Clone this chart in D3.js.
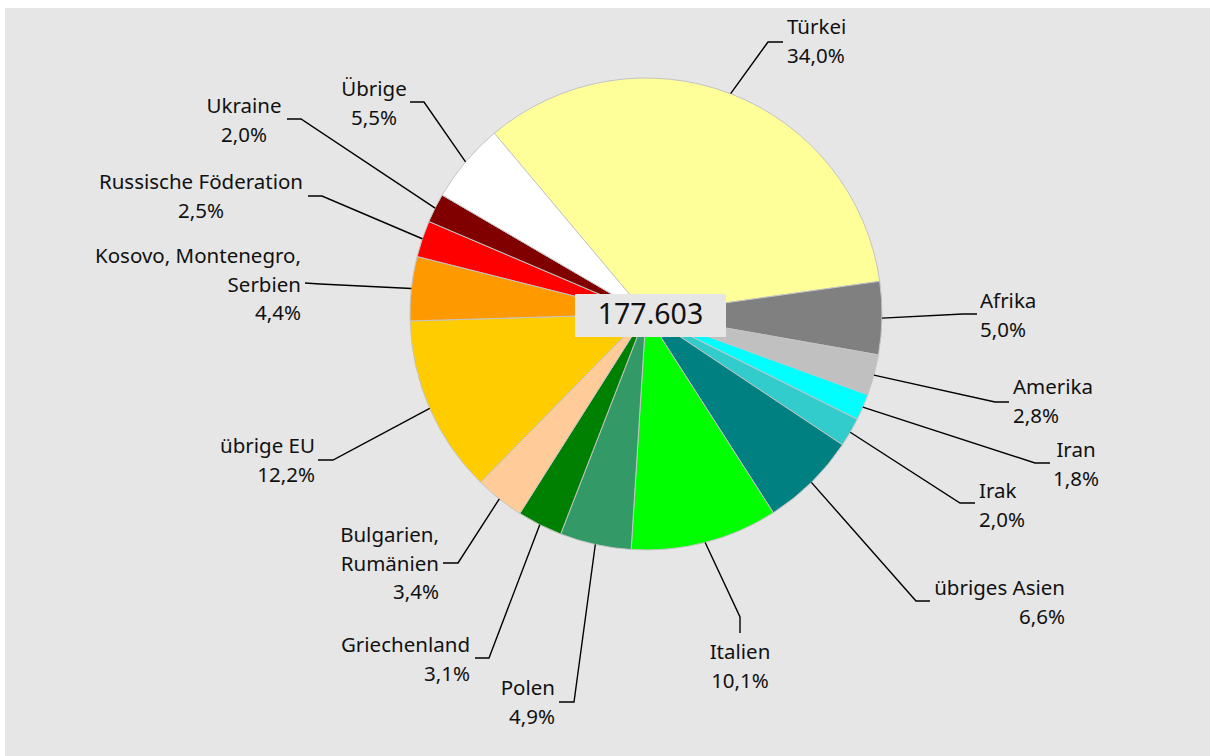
<!DOCTYPE html>
<html>
<head>
<meta charset="utf-8">
<script src="https://cdn.jsdelivr.net/npm/d3@7"></script>
<style>
  html, body { margin: 0; padding: 0; background: #ffffff; }
  svg { display: block; }
  text { font-family: "Noto Sans", "Open Sans", sans-serif; fill: #111; }
</style>
</head>
<body>
<svg id="chart" width="1211" height="756"></svg>
<script>
// ---- data ----
const categories = ["Türkei", "Afrika", "Amerika", "Iran", "Irak", "übriges Asien", "Italien", "Polen",
  "Griechenland", "Bulgarien, Rumänien", "übrige EU", "Kosovo, Montenegro, Serbien",
  "Russische Föderation", "Ukraine", "Übrige"];
const shares = [34.0, 5.0, 2.8, 1.8, 2.0, 6.6, 10.1, 4.9, 3.1, 3.4, 12.2, 4.4, 2.5, 2.0, 5.5];
const labelLines = [["Türkei"], ["Afrika"], ["Amerika"], ["Iran"], ["Irak"], ["übriges Asien"], ["Italien"], ["Polen"],
  ["Griechenland"], ["Bulgarien,", "Rumänien"], ["übrige EU"], ["Kosovo, Montenegro,", "Serbien"],
  ["Russische Föderation"], ["Ukraine"], ["Übrige"]];
const totalValue = 177603;
const colors = ["#FFFF99", "#808080", "#C0C0C0", "#00FFFF", "#33CCCC", "#008080", "#00FF00", "#339966",
  "#008000", "#FFCC99", "#FFCC00", "#FF9900", "#FF0000", "#800000", "#FFFFFF"];

// ---- label layout (anchor, text x, first baseline y, elbow point, end point) ----
const labelLayout = [
  { a: "start",  x: 787,  y: 34,  e: [768, 42],  t: [783, 42] },
  { a: "start",  x: 980,  y: 308, e: [963, 314], t: [977, 314] },
  { a: "start",  x: 1013, y: 394, e: [995, 402], t: [1009, 402] },
  { a: "middle", x: 1076, y: 457, e: [1035, 463], t: [1050, 463] },
  { a: "start",  x: 979,  y: 498, e: [960, 503], t: [975, 503] },
  { a: "end",    x: 1065, y: 595, e: [916, 601], t: [930, 601] },
  { a: "middle", x: 740,  y: 659, e: [740, 617], t: [740, 633] },
  { a: "end",    x: 555,  y: 695, e: [574, 702], t: [559, 702] },
  { a: "end",    x: 470,  y: 652, e: [489, 658], t: [475, 658] },
  { a: "end",    x: 439,  y: 542, e: [458, 563], t: [443, 563] },
  { a: "end",    x: 315,  y: 453, e: [333, 460], t: [318, 460] },
  { a: "end",    x: 301,  y: 263, e: [320, 284], t: [305, 283] },
  { a: "middle", x: 201,  y: 189, e: [322, 196], t: [308, 196] },
  { a: "middle", x: 244,  y: 113, e: [301, 119], t: [287, 119] },
  { a: "middle", x: 374,  y: 96,  e: [424, 102], t: [410, 102] }
];

const W = 1211, H = 756;
const cx = 646, cy = 314, R = 236;
const startDeg = -40;
const lineH = 28.5;

const svg = d3.select("#chart");
svg.append("rect").attr("x", 5).attr("y", 8).attr("width", W - 6).attr("height", H - 8).attr("fill", "#E6E6E6");

const items = categories.map((c, i) => ({ name: c, value: shares[i], color: colors[i], lines: labelLines[i], lay: labelLayout[i] }));

const pie = d3.pie().value(d => d.value).sort(null)
  .startAngle(startDeg * Math.PI / 180)
  .endAngle((startDeg + 360) * Math.PI / 180);
const arcs = pie(items);
const arc = d3.arc().innerRadius(0).outerRadius(R);

const g = svg.append("g").attr("transform", `translate(${cx},${cy})`);
g.selectAll("path.slice").data(arcs).join("path")
  .attr("class", "slice")
  .attr("d", arc)
  .attr("fill", d => d.data.color)
  .attr("stroke", "#c4c4c4")
  .attr("stroke-width", 1)
  .attr("stroke-linejoin", "round");

const fmtPct = v => v.toFixed(1).replace(".", ",") + "%";

// leader lines
svg.append("g").selectAll("polyline").data(arcs).join("polyline")
  .attr("points", d => {
    const m = (d.startAngle + d.endAngle) / 2;
    const px = cx + R * Math.sin(m), py = cy - R * Math.cos(m);
    const L = d.data.lay;
    return [[px, py], L.e, L.t].map(p => p.join(",")).join(" ");
  })
  .attr("fill", "none")
  .attr("stroke", "#000")
  .attr("stroke-width", 1.4);

// labels
const lg = svg.append("g").attr("font-size", 20.5);
arcs.forEach(d => {
  const L = d.data.lay;
  const lines = d.data.lines.concat([fmtPct(d.data.value)]);
  const t = lg.append("text").attr("text-anchor", L.a).attr("x", L.x).attr("y", L.y);
  lines.forEach((s, k) => {
    t.append("tspan").attr("x", L.x).attr("y", L.y + k * lineH).text(s);
  });
});

// center total
const fmtTotal = d3.formatLocale({ decimal: ",", thousands: ".", grouping: [3], currency: ["", "€"] }).format(",d");
svg.append("rect").attr("x", 575).attr("y", 294).attr("width", 151).attr("height", 43).attr("fill", "#E6E6E6");
svg.append("text").attr("x", 650.5).attr("y", 324).attr("text-anchor", "middle")
  .attr("font-size", 28.5).text(fmtTotal(totalValue));
</script>
</body>
</html>
